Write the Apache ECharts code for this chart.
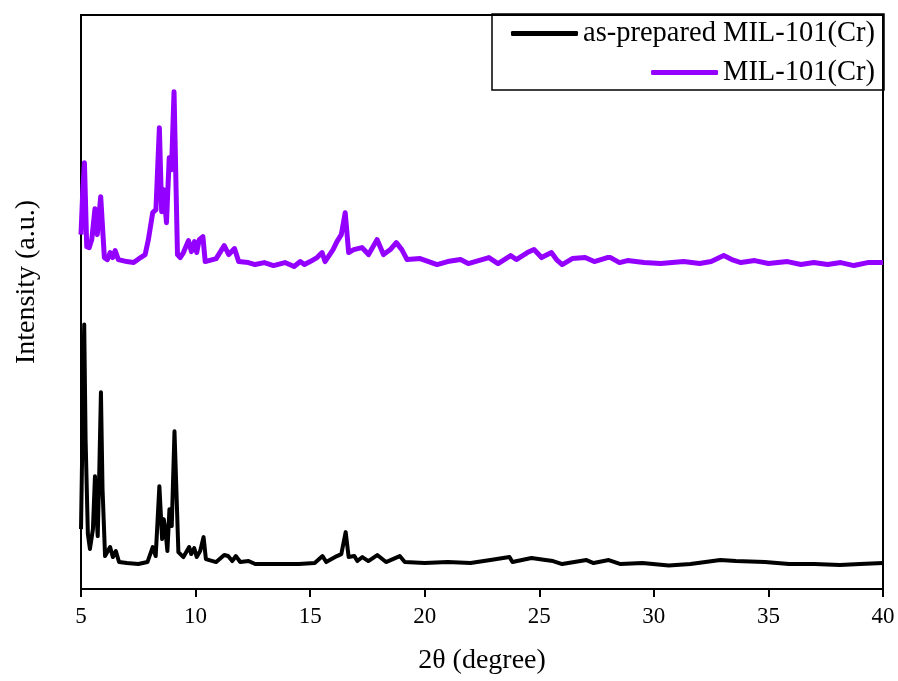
<!DOCTYPE html>
<html>
<head>
<meta charset="utf-8">
<script src="https://cdn.jsdelivr.net/npm/echarts@6/dist/echarts.min.js"></script>
<style>
  html, body { margin: 0; padding: 0; background: #fff; }
  #chart { width: 898px; height: 681px; }
</style>
</head>
<body>
<div id="chart"></div>
<script>
// x ticks
const xTicks = [5, 10, 15, 20, 25, 30, 35, 40];

// as-prepared MIL-101(Cr), black
const asPreparedTheta = [5.00, 5.06, 5.14, 5.20, 5.30, 5.39, 5.52, 5.61, 5.66, 5.73, 5.80, 5.87, 5.94, 6.05, 6.27, 6.39, 6.52, 6.66,
  7.00, 7.50, 7.90, 8.13, 8.26, 8.42, 8.54, 8.61, 8.68, 8.77, 8.86, 8.96, 9.08, 9.25, 9.47, 9.72, 9.81, 9.94, 10.05, 10.20, 10.35, 10.45,
  10.90, 11.25, 11.42, 11.60, 11.76, 11.95, 12.31, 12.60, 13.50, 14.50, 15.20, 15.54, 15.70, 16.17, 16.36, 16.55, 16.68, 16.93, 17.06,
  17.28, 17.54, 17.93, 18.31, 18.91, 19.13, 20.00, 21.00, 22.00, 22.87, 23.70, 23.83, 24.66, 25.27, 25.60, 26.00, 27.06, 27.37, 28.03,
  28.55, 29.50, 30.65, 31.60, 32.90, 33.58, 34.85, 35.90, 37.00, 38.12, 39.00, 40.00];
const asPreparedIntensity = [60, 150, 265, 150, 55, 40, 60, 113, 80, 53, 120, 197, 100, 33, 42, 32, 38, 27,
  26, 25, 27, 42, 33, 103, 50, 70, 60, 38, 80, 63, 158, 37, 32, 42, 35, 41, 32, 38, 52, 30,
  27, 34, 33, 28, 33, 27, 28, 25, 25, 25, 26, 33, 27, 33, 35, 57, 32, 33, 28,
  32, 28, 34, 27, 33, 27, 26, 27, 26, 29, 32, 27, 31, 29, 28, 25, 29, 26, 29,
  25, 26, 23.5, 25, 29, 28, 27, 25, 25, 24, 25, 26];

// MIL-101(Cr), purple
const milTheta = [5.00, 5.08, 5.15, 5.25, 5.36, 5.47, 5.61, 5.71, 5.86, 6.02, 6.15, 6.27, 6.38, 6.49, 6.63, 7.00, 7.30, 7.60, 7.80,
  7.94, 8.13, 8.27, 8.42, 8.52, 8.61, 8.73, 8.85, 8.95, 9.06, 9.21, 9.33, 9.47, 9.69, 9.82, 9.95, 10.05, 10.16, 10.32, 10.42,
  10.90, 11.25, 11.45, 11.70, 11.88, 12.30, 12.60, 13.00, 13.40, 13.90, 14.30, 14.57, 14.75, 15.00, 15.30, 15.52, 15.65, 16.00, 16.17,
  16.36, 16.53, 16.68, 16.90, 17.26, 17.55, 17.92, 18.20, 18.50, 18.76, 19.00, 19.23, 19.80, 20.54, 21.00, 21.56, 21.90, 22.80, 23.20,
  23.75, 24.00, 24.48, 24.77, 25.10, 25.53, 25.75, 26.00, 26.44, 27.00, 27.40, 27.97, 28.11, 28.50, 28.85, 29.57, 30.30, 31.30, 32.00,
  32.50, 33.05, 33.40, 33.80, 34.40, 35.00, 35.83, 36.42, 36.98, 37.58, 38.16, 38.73, 39.33, 40.00];
const milIntensity = [355, 400, 427, 343, 342, 350, 381, 355, 393, 332, 330, 337, 332, 339, 330, 328, 327, 332, 335,
  350, 377, 380, 462, 378, 400, 367, 432, 420, 498, 335, 332, 337, 349, 338, 348, 337, 350, 353, 328,
  331, 344, 335, 341, 328, 327, 325, 327, 324, 327, 323, 328, 325, 328, 332, 337, 328, 340, 348,
  355, 377, 337, 340, 342, 335, 350, 335, 340, 347, 340, 330, 331, 325, 328, 330, 326, 332, 326,
  334, 330, 337, 340, 332, 337, 330, 325, 331, 332, 328, 332, 332, 327, 329, 327, 326, 328, 326,
  328, 334, 330, 327, 329, 326, 328, 325, 327, 325, 327, 324, 327, 327];

const asPreparedData = asPreparedTheta.map((t, i) => [t, asPreparedIntensity[i]]);
const milData = milTheta.map((t, i) => [t, milIntensity[i]]);

const font = "'Liberation Serif', 'Times New Roman', serif";
const myChart = echarts.init(document.getElementById("chart"));

const option = {
  animation: false,
  backgroundColor: "#fff",
  grid: {
    left: 81,
    right: 15,
    top: 15,
    bottom: 92,
    show: true,
    borderColor: "#000",
    borderWidth: 2
  },
  legend: [
    {
      data: ["as-prepared MIL-101(Cr)"],
      right: 23,
      top: 19,
      padding: 0,
      itemWidth: 67,
      itemHeight: 5,
      icon: "roundRect",
      textStyle: { fontFamily: font, fontSize: 28.5, color: "#000" }
    },
    {
      data: ["MIL-101(Cr)"],
      right: 23,
      top: 58,
      padding: 0,
      itemWidth: 67,
      itemHeight: 5,
      icon: "roundRect",
      textStyle: { fontFamily: font, fontSize: 28.5, color: "#000" }
    }
  ],
  graphic: [
    {
      type: "rect",
      shape: { x: 492, y: 14, width: 392, height: 76 },
      style: { fill: "none", stroke: "#000", lineWidth: 1.5 },
      z: 10
    },
    {
      type: "text",
      x: 27,
      y: 282,
      rotation: Math.PI / 2,
      style: {
        text: "Intensity (a.u.)",
        fontFamily: font,
        fontSize: 28,
        fill: "#000",
        align: "center",
        verticalAlign: "middle"
      }
    }
  ],
  xAxis: {
    type: "value",
    min: xTicks[0],
    max: xTicks[xTicks.length - 1],
    interval: 5,
    name: "2θ (degree)",
    nameLocation: "middle",
    nameGap: 58,
    nameTextStyle: { fontFamily: font, fontSize: 28, color: "#000" },
    axisLine: { onZero: false, lineStyle: { color: "#000", width: 2 } },
    axisTick: { show: true, length: 8, lineStyle: { color: "#000", width: 2 } },
    axisLabel: { fontFamily: font, fontSize: 23, color: "#000", margin: 16 },
    splitLine: { show: false }
  },
  yAxis: {
    type: "value",
    min: 0,
    max: 575,
    axisLine: { show: true, lineStyle: { color: "#000", width: 2 } },
    axisTick: { show: false },
    axisLabel: { show: false },
    splitLine: { show: false }
  },
  series: [
    {
      name: "as-prepared MIL-101(Cr)",
      type: "line",
      data: asPreparedData,
      showSymbol: false,
      color: "#000",
      lineStyle: { color: "#000", width: 4, join: "round" }
    },
    {
      name: "MIL-101(Cr)",
      type: "line",
      data: milData,
      showSymbol: false,
      color: "#9400ff",
      lineStyle: { color: "#9400ff", width: 5, join: "round" }
    }
  ]
};
myChart.setOption(option);
</script>
</body>
</html>
